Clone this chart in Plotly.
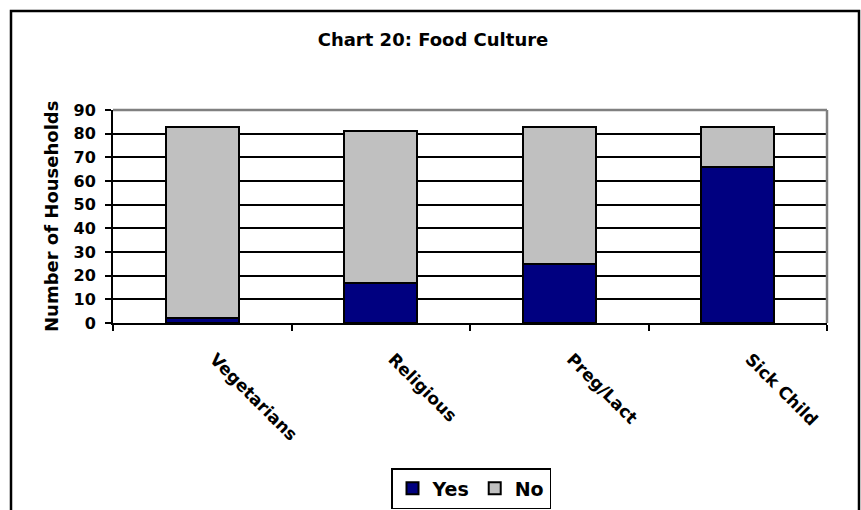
import plotly.graph_objects as go

categories = ["Vegetarians", "Religious", "Preg/Lact", "Sick Child"]
yes_values = [2, 17, 25, 66]
no_values = [81, 64, 58, 17]
y_ticks = [0, 10, 20, 30, 40, 50, 60, 70, 80, 90]

FONT = "DejaVu Sans"
W, H = 861, 510
L, R, T, B = 113, 34, 110, 187
PW, PH = W - L - R, H - T - B


def px_x(x):
    return (x - L) / PW


def px_y(y):
    return (H - B - y) / PH


fig = go.Figure()
fig.add_trace(go.Bar(
    name="Yes", x=categories, y=yes_values,
    marker=dict(color="#000080", line=dict(color="black", width=2)),
))
fig.add_trace(go.Bar(
    name="No", x=categories, y=no_values,
    marker=dict(color="#C0C0C0", line=dict(color="black", width=2)),
))

# slanted category labels start a little past the tick
tick_text = ["\u00a0\u00a0\u00a0" + c for c in categories]

fig.update_layout(
    width=W, height=H,
    margin=dict(l=L, r=R, t=T, b=B, autoexpand=False),
    paper_bgcolor="white", plot_bgcolor="white",
    barmode="stack", bargap=0.59,
    font=dict(family=FONT, color="black", size=15),
    title=dict(
        text="<b>Chart 20: Food Culture</b>",
        x=433 / W, xref="container", xanchor="center",
        y=1 - 40 / H, yref="container", yanchor="middle",
        font=dict(family=FONT, size=18, color="black"),
    ),
    xaxis=dict(
        tickmode="array", tickvals=categories, ticktext=tick_text,
        showline=True, linecolor="black", linewidth=2,
        ticks="outside", tickson="boundaries", ticklen=6, tickwidth=2, tickcolor="black",
        tickangle=45, ticklabelstandoff=5, automargin=False,
        tickfont=dict(family=FONT, size=17, color="black", weight="bold"),
        showgrid=False, zeroline=False,
    ),
    yaxis=dict(
        range=[0, 90], tickvals=y_ticks,
        showline=True, linecolor="black", linewidth=2,
        ticks="outside", ticklen=6, tickwidth=2, tickcolor="black",
        ticklabelstandoff=6, automargin=False,
        tickfont=dict(family=FONT, size=16, color="black", weight="bold"),
        showgrid=True, gridcolor="black", gridwidth=1.5,
        zeroline=False,
    ),
    legend=dict(
        orientation="h", traceorder="normal",
        x=px_x(471), xanchor="center",
        y=px_y(509), yanchor="bottom",
        bordercolor="black", borderwidth=1.5,
        font=dict(family=FONT, size=19, color="black", weight="bold"),
        itemwidth=30, tracegroupgap=0,
        bgcolor="white",
    ),
    showlegend=True,
)

# y-axis title
fig.add_annotation(
    text="<b>Number of Households</b>",
    x=px_x(39), y=0.5, xref="paper", yref="paper",
    textangle=-90, showarrow=False,
    font=dict(family=FONT, size=18, color="black"),
)

# grey top and right edges of the plot area
fig.add_shape(type="line", xref="paper", yref="paper", x0=0, x1=1, y0=1, y1=1,
              line=dict(color="#808080", width=2.5), layer="above")
fig.add_shape(type="line", xref="paper", yref="paper", x0=1, x1=1, y0=0, y1=1,
              line=dict(color="#808080", width=2.5), layer="above")

# chart frame
fig.add_shape(type="rect", xref="paper", yref="paper",
              x0=px_x(11), x1=px_x(859), y0=px_y(530), y1=px_y(11),
              line=dict(color="black", width=2.5), fillcolor="rgba(0,0,0,0)")

fig.write_html("out.html")
